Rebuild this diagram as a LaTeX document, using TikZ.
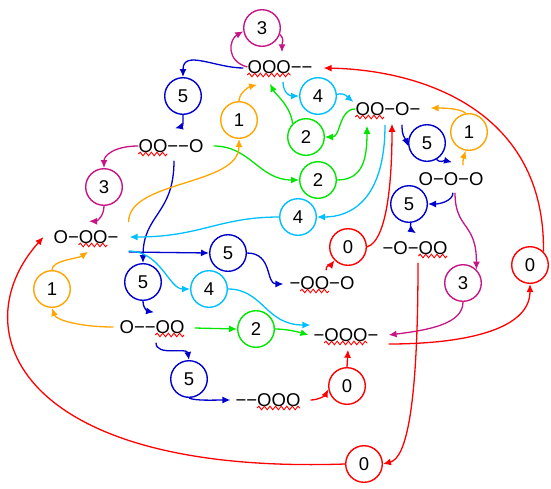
\documentclass[tikz,border=0pt]{standalone}
\usepackage{fontspec}
\setmainfont{Liberation Sans}
\usepackage{xcolor}
\usepackage{tikz}
\usetikzlibrary{arrows.meta}
\usetikzlibrary{decorations.pathmorphing}
\definecolor{cmag}{RGB}{199,21,133}
\definecolor{cblu}{RGB}{0,0,205}
\definecolor{ccya}{RGB}{0,191,255}
\definecolor{cgrn}{RGB}{0,230,0}
\definecolor{cora}{RGB}{255,165,0}
\definecolor{cred}{RGB}{255,0,0}
\def\sfnt{\fontsize{18.5}{22}\selectfont}
\tikzset{
  st/.style={inner sep=0pt, font=\sfnt},
  tr/.style={circle, draw=#1, line width=1.4pt, minimum size=36.6pt, inner sep=0pt, font=\sfnt},
  ar/.style={#1, line width=1.3pt, -{Latex[length=8pt,width=7pt]}},
  wavy/.style={cred, line width=0.9pt, decorate, decoration={snake, amplitude=1.8pt, segment length=5.6pt}}
}
\newcommand{\wv}[3]{\draw[wavy] ([shift={(#2,1.6)}]#1.base west) -- ++(#3,0);}

\begin{document}
\begin{tikzpicture}[x=1pt, y=-1pt]
	\useasboundingbox (0,0) rectangle (551,488);
	% states
	\node[st] (sA) at (280,67) {OOO−−};
	\node[st] (sB) at (388,109) {OO−O−};
	\node[st] (sC) at (171,146) {OO−−O};
	\node[st] (sD) at (451,179) {O−O−O};
	\node[st] (sE) at (86,237) {O−OO−};
	\node[st] (sF) at (415,248) {−O−OO};
	\node[st] (sG) at (322,283) {−OO−O};
	\node[st] (sH) at (346,335) {−OOO−};
	\node[st] (sI) at (152,327) {O−−OO};
	\node[st] (sJ) at (268,400) {−−OOO};
	\wv{sA}{0}{43.2}
	\wv{sB}{0}{28.8}
	\wv{sC}{0}{28.8}
	\wv{sE}{25.2}{28.8}
	\wv{sF}{36}{28.8}
	\wv{sG}{10.8}{28.8}
	\wv{sH}{10.8}{43.2}
	\wv{sI}{36}{28.8}
	\wv{sJ}{21.6}{43.2}
	% transitions
	\node[tr=cmag] (tA3) at (262,28) {3};
	\node[tr=cmag] (tC3) at (104,187) {3};
	\node[tr=cmag] (tD3) at (463,283) {3};
	\node[tr=cblu] (tA5) at (183,96) {5};
	\node[tr=cblu] (tB5) at (427,143) {5};
	\node[tr=cblu] (tD5) at (409,204) {5};
	\node[tr=cblu] (tC5) at (143,282) {5};
	\node[tr=cblu] (tE5) at (228,253) {5};
	\node[tr=cblu] (tI5) at (189,379) {5};
	\node[tr=ccya] (tA4) at (318,96) {4};
	\node[tr=ccya] (tB4) at (298,217) {4};
	\node[tr=ccya] (tE4) at (209,289) {4};
	\node[tr=cgrn] (tB2) at (306,137) {2};
	\node[tr=cgrn] (tC2) at (318,180) {2};
	\node[tr=cgrn] (tI2) at (256,329) {2};
	\node[tr=cora] (tE1) at (239,120) {1};
	\node[tr=cora] (tD1) at (469,132) {1};
	\node[tr=cora] (tI1) at (52,289) {1};
	\node[tr=cred] (tG0) at (348,247) {0};
	\node[tr=cred] (tH0) at (530,265) {0};
	\node[tr=cred] (tJ0) at (347,386) {0};
	\node[tr=cred] (tF0) at (364,464) {0};
	% 3
	\draw[ar=cmag] (sA.west) .. controls +(-22,-6) and +(-14,8) .. (tA3.190);
	\draw[ar=cmag] (tA3.-20) .. controls +(5,5) and +(0,-10) .. ([shift={(2,-8)}]sA.north);
	\draw[ar=cmag] (sC.west) .. controls +(-25,0) and +(0,-12) .. (tC3.north);
	\draw[ar=cmag] (tC3.south) .. controls +(0,10) and +(8,0) .. ([shift={(3,-9)}]sE.north);
	\draw[ar=cmag] ([shift={(4,7)}]sD.south) .. controls +(0,37) and +(0,-48) .. (tD3.45);
	\draw[ar=cmag] (tD3.south) .. controls +(0,22) and +(40,-5) .. ([shift={(10,0)}]sH.east);
	% 5
	\draw[ar=cblu] ([shift={(-4,1)}]sA.west) .. controls +(-28,0) and +(0,-28) .. (tA5.north);
	\draw[ar=cblu] (tA5.south) .. controls +(0,8) and +(8,-2) .. ([shift={(4,-11)}]sC.north);
	\draw[ar=cblu] ([shift={(14,9)}]sB.south) .. controls +(0,12) and +(-4,-10) .. (tB5.190);
	\draw[ar=cblu] (tB5.-60) .. controls +(4,4) and +(-8,-2) .. ([shift={(1,-10)}]sD.north);
	\draw[ar=cblu] ([shift={(2,7)}]sD.south) .. controls +(0,8) and +(12,0) .. (tD5.east);
	\draw[ar=cblu] (tD5.-85) .. controls +(0,6) and +(-6,-4) .. ([shift={(1,-8)}]sF.north);
	\draw[ar=cblu] ([shift={(3,8)}]sC.south) .. controls +(0,54) and +(0,-49) .. (tC5.north);
	\draw[ar=cblu] (tC5.south) .. controls +(0,8) and +(-6,-1) .. ([shift={(2,-8)}]sI.north);
	\draw[ar=cblu] ([shift={(10,15)}]sE.east) -- (tE5.west);
	\draw[ar=cblu] (tE5.east) .. controls +(26,0) and +(-18,0) .. ([shift={(-6,1)}]sG.west);
	\draw[ar=cblu] ([shift={(4,9)}]sI.south) .. controls +(0,14) and +(-2,-13) .. (tI5.north);
	\draw[ar=cblu] (tI5.south) .. controls +(6,3) and +(-15,0) .. ([shift={(-5,0)}]sJ.west);
	% 4
	\draw[ar=ccya] ([shift={(3,8)}]sA.south) .. controls +(0,10) and +(-10,0) .. (tA4.west);
	\draw[ar=ccya] (tA4.5) .. controls +(8,-2) and +(-6,-5) .. ([shift={(-2,-7)}]sB.west);
	\draw[ar=ccya] ([shift={(-3,9)}]sB.south) .. controls +(0,75) and +(34,0) .. (tB4.east);
	\draw[ar=ccya] (tB4.west) .. controls +(-60,0) and +(71,0) .. ([shift={(11,0)}]sE.east);
	\draw[ar=ccya] ([shift={(10,14)}]sE.east) .. controls +(32,0) and +(-21,0) .. (tE4.west);
	\draw[ar=ccya] (tE4.east) .. controls +(35,0) and +(-45,0) .. ([shift={(-3,-10)}]sH.west);
	% 2
	\draw[ar=cgrn] (sB.west) .. controls +(-17,0) and +(16,0) .. (tB2.east);
	\draw[ar=cgrn] (tB2.135) .. controls +(-2,-18) and +(5,10) .. ([shift={(-10,10)}]sA.south);
	\draw[ar=cgrn] ([shift={(10,0)}]sC.east) .. controls +(37,0) and +(-40,0) .. (tC2.west);
	\draw[ar=cgrn] (tC2.east) .. controls +(26,0) and +(0,33) .. ([shift={(-21,10)}]sB.south);
	\draw[ar=cgrn] ([shift={(10,1)}]sI.east) -- (tI2.west);
	\draw[ar=cgrn] (tI2.east) .. controls +(12,0) and +(-10,-3) .. ([shift={(-5,0)}]sH.west);
	% 1
	\draw[ar=cora] ([shift={(10,-15)}]sE.east) .. controls +(0,-42) and +(0,47) .. (tE1.south);
	\draw[ar=cora] (tE1.north) .. controls +(0,-8) and +(-8,2) .. ([shift={(-23,11)}]sA.south);
	\draw[ar=cora] ([shift={(12,-7)}]sD.north) .. controls +(0,-8) and +(-2,6) .. (tD1.-100);
	\draw[ar=cora] (tD1.100) .. controls +(-5,-5) and +(12,0) .. ([shift={(10,-1)}]sB.east);
	\draw[ar=cora] ([shift={(-6,0)}]sI.west) .. controls +(-33,0) and +(4,12) .. (tI1.south);
	\draw[ar=cora] (tI1.north) .. controls +(0,-10) and +(-10,7) .. ([shift={(2,8)}]sE.south);
	% 0
	\draw[ar=cred] ([shift={(4,-6)}]sG.north) .. controls +(0,-6) and +(-4,5) .. (tG0.225);
	\draw[ar=cred] (tG0.east) .. controls +(22,-7) and +(0,46) .. ([shift={(4,8)}]sB.south);
	\draw[ar=cred] ([shift={(10,0)}]sJ.east) .. controls +(8,0) and +(-3,6) .. (tJ0.190);
	\draw[ar=cred] (tJ0.north) -- ([shift={(2,8)}]sH.south);
	\draw[ar=cred] ([shift={(10,9)}]sH.east) .. controls +(72,0) and +(0,47) .. (tH0.south);
	\draw[ar=cred] (tH0.45) .. controls +(2,-140) and +(100,2) .. ([shift={(11,1)}]sA.east);
	\draw[ar=cred] ([shift={(3,8)}]sF.south) .. controls +(0,147) and +(23,-6) .. (tF0.east);
	\draw[ar=cred] (tF0.west) .. controls +(-326,11) and +(-83,93) .. ([shift={(-10,0)}]sE.west);
\end{tikzpicture}
\end{document}
